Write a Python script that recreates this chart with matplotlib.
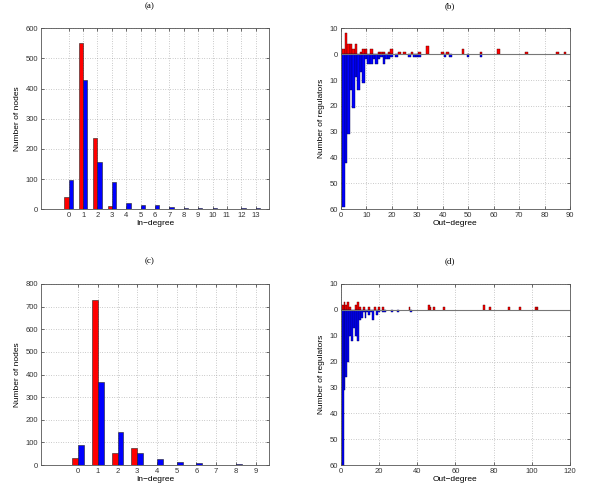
import matplotlib
matplotlib.use("Agg")
import matplotlib.pyplot as plt
import numpy as np

plt.rcParams['font.family'] = ['Liberation Sans', 'DejaVu Sans']

# (a) in-degree, network 1
a_deg = list(range(0, 14))
a_red = [40, 550, 236, 12, 0, 0, 0, 0, 0, 0, 0, 0, 0, 0]
a_blue = [97, 428, 158, 92, 22, 15, 15, 8, 4, 4, 5, 0, 3, 3]

# (b) out-degree, network 1
b_red_deg = [1, 2, 3, 4, 5, 6, 8, 9, 10, 12, 15, 16, 17, 19, 20, 23, 25, 28, 31,
             34, 40, 42, 48, 55, 62, 73, 85, 88]
b_red_cnt = [2, 8, 4, 4, 2, 4, 1, 2, 2, 2, 1, 1, 1, 1, 2, 1, 1, 1, 1,
             3, 1, 1, 2, 1, 2, 1, 1, 1]
b_blue_deg = [1, 2, 3, 4, 5, 6, 7, 8, 9, 10, 11, 12, 13, 14, 15, 16, 17, 18, 19,
              20, 22, 27, 29, 30, 31, 41, 43, 50, 55]
b_blue_cnt = [59, 42, 31, 14, 21, 9, 14, 7, 11, 2, 4, 4, 2, 4, 2, 1, 4, 2, 2,
              1, 1, 1, 1, 1, 1, 1, 1, 1, 1]

# (c) in-degree, network 2
c_deg = list(range(0, 10))
c_red = [29, 729, 53, 73, 0, 0, 0, 0, 0, 0]
c_blue = [88, 368, 145, 55, 25, 13, 7, 0, 3, 2]

# (d) out-degree, network 2
d_red_deg = [1, 2, 3, 4, 5, 8, 9, 10, 12, 15, 18, 20, 22, 36, 46, 47, 49, 54,
             75, 78, 88, 94, 102, 103]
d_red_cnt = [2, 3, 2, 3, 1, 2, 3, 1, 1, 1, 1, 1, 1, 1, 2, 1, 1, 1,
             2, 1, 1, 1, 1, 1]
d_blue_deg = [1, 2, 3, 4, 5, 6, 7, 8, 9, 10, 11, 12, 13, 14, 15, 16, 17, 19,
              20, 22, 23, 27, 30, 37]
d_blue_cnt = [62, 31, 26, 20, 10, 12, 7, 10, 12, 4, 3, 1, 3, 1, 2, 1, 4, 2,
              1, 1, 1, 1, 1, 1]

W, H = 600, 493
fig = plt.figure(figsize=(W / 100, H / 100), dpi=100)

FS = 5.5
EDGE = '#222222'


def add_ax(left, top, right, bottom):
    return fig.add_axes([left / W, 1 - bottom / H, (right - left) / W, (bottom - top) / H])


def style(ax):
    ax.tick_params(direction='in', labelsize=FS, length=2, width=0.5, pad=2,
                   top=True, right=True, colors='#333333')
    for s in ax.spines.values():
        s.set_linewidth(0.6)
        s.set_color('#555555')
    ax.grid(True, linestyle=(0, (1, 2.5)), linewidth=0.5, color='#999999')
    ax.set_axisbelow(True)


def in_degree(ax, deg, red, blue, xlim, ymax, ystep):
    deg = np.array(deg)
    ax.bar(deg - 0.15, red, width=0.3, color='#ff0000', edgecolor=EDGE, linewidth=0.4)
    ax.bar(deg + 0.15, blue, width=0.3, color='#0000ff', edgecolor=EDGE, linewidth=0.4)
    ax.set_xlim(*xlim)
    ax.set_ylim(0, ymax)
    ax.set_xticks(deg)
    ax.set_yticks(np.arange(0, ymax + 1, ystep))
    ax.set_xlabel('In\u2212degree', fontsize=FS + 0.5, labelpad=1)
    ax.set_ylabel('Number of nodes', fontsize=FS + 0.5, labelpad=3)
    style(ax)


def out_degree(ax, rdeg, rcnt, bdeg, bcnt, xmax, xstep):
    ax.bar(rdeg, rcnt, width=1.0, color='#ff0000', edgecolor='#550000', linewidth=0.3)
    ax.bar(bdeg, -np.array(bcnt), width=1.0, color='#0000ff', edgecolor='#000055',
           linewidth=0.3)
    ax.axhline(0, color='#777777', linewidth=0.8)
    ax.set_xlim(0, xmax)
    ax.set_ylim(-60, 10)
    yt = np.arange(-60, 11, 10)
    ax.set_yticks(yt)
    ax.set_yticklabels([str(abs(v)) for v in yt])
    ax.set_xticks(np.arange(0, xmax + 1, xstep))
    ax.set_xlabel('Out\u2212degree', fontsize=FS + 0.5, labelpad=1)
    ax.set_ylabel('Number of regulators', fontsize=FS + 0.5, labelpad=3)
    style(ax)


ax_a = add_ax(40.7, 28.3, 269.3, 209.3)
in_degree(ax_a, a_deg, a_red, a_blue, (-1.95, 13.95), 600, 100)

ax_b = add_ax(340.7, 28.3, 570, 209.3)
out_degree(ax_b, b_red_deg, b_red_cnt, b_blue_deg, b_blue_cnt, 90, 10)

ax_c = add_ax(40.7, 284, 269.3, 465)
in_degree(ax_c, c_deg, c_red, c_blue, (-1.9, 9.7), 800, 100)

ax_d = add_ax(340.7, 284, 570, 465)
out_degree(ax_d, d_red_deg, d_red_cnt, d_blue_deg, d_blue_cnt, 120, 20)

for lbl, x, y in [('(a)', 150, 6), ('(b)', 450, 6), ('(c)', 150, 261.5), ('(d)', 450, 261.5)]:
    fig.text(x / W, 1 - y / H, lbl, ha='center', va='center', fontsize=6.5,
             family=['Liberation Serif', 'DejaVu Serif'])

fig.savefig('out.png', dpi=100)
